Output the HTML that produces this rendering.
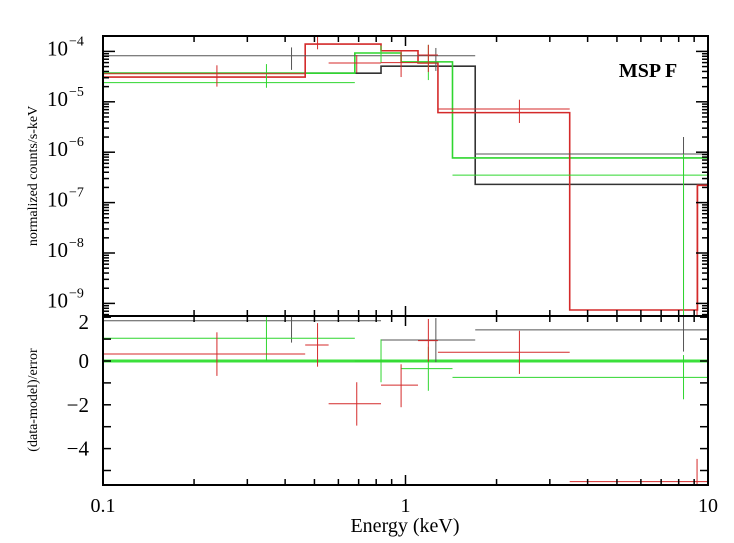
<!DOCTYPE html>
<html><head><meta charset="utf-8"><style>
html,body{margin:0;padding:0;background:#fff;}
svg{display:block;font-family:"Liberation Serif",serif;}
</style></head><body>
<svg id="chart" width="734" height="543" viewBox="0 0 734 543" xmlns="http://www.w3.org/2000/svg">
<defs>
<clipPath id="clipTop"><rect x="103" y="36" width="605" height="280"/></clipPath>
<clipPath id="clipBot"><rect x="103" y="316" width="605" height="169"/></clipPath>
</defs>
<g id="topMarks" clip-path="url(#clipTop)"></g>
<g id="botMarks" clip-path="url(#clipBot)"></g>
<g id="axes"></g>
<text x="648" y="77" font-size="20" font-weight="bold" text-anchor="middle">MSP F</text>
<text transform="translate(37,176) rotate(-90)" font-size="14" text-anchor="middle">normalized counts/s-keV</text>
<text transform="translate(37,400) rotate(-90)" font-size="14" text-anchor="middle">(data-model)/error</text>
<text x="405" y="532" font-size="20" text-anchor="middle">Energy (keV)</text>
</svg>
<script>
// ---- data: spectrum (top panel) ----
const blackLo=[0.1,0.83,1.70], blackHi=[0.83,1.70,10], blackC=[0.42,1.26,8.3];
const blackVal=[8.2e-5,8.2e-5,9.2e-7], blackErrHi=[1.2e-4,1.17e-4,2.0e-6], blackErrLo=[4.3e-5,4.1e-5,1e-10];
const blackModel=[3.7e-5,5.1e-5,2.3e-7];
const redLo=[0.1,0.466,0.557,0.83,1.10,1.28,3.49], redHi=[0.466,0.557,0.83,1.10,1.28,3.49,10];
const redC=[0.238,0.512,0.69,0.967,1.19,2.38,9.2];
const redVal=[3.6e-5,2.0e-4,5.9e-5,6.0e-5,8.5e-5,7.2e-6,1e-10];
const redErrHi=[5.3e-5,2.8e-4,8.5e-5,1.03e-4,1.35e-4,1.1e-5,2.2e-7];
const redErrLo=[2.0e-5,1.1e-4,3.8e-5,3.1e-5,3.9e-5,3.8e-6,1e-10];
const redModelLo=[0.1,0.466,0.83,1.10,1.28,3.49,9.23], redModelHi=[0.466,0.83,1.10,1.28,3.49,9.23,10];
const redModel=[3.1e-5,1.4e-4,1.03e-4,5.9e-5,6.1e-6,7.4e-10,2.2e-7];
const greenLo=[0.1,0.68,0.967,1.43], greenHi=[0.68,0.967,1.43,10], greenC=[0.347,0.83,1.19,8.3];
const greenVal=[2.4e-5,9.3e-5,6.2e-5,3.5e-7], greenErrHi=[5.6e-5,1.3e-4,1.35e-4,9.2e-7], greenErrLo=[1.9e-5,6.0e-5,2.7e-5,1e-10];
const greenModel=[3.7e-5,9.3e-5,6.2e-5,7.7e-7];
// ---- data: residuals (bottom panel) ----
const blackRes=[1.84,0.96,1.42], blackResHi=[2.02,1.96,2.5], blackResLo=[0.84,-0.05,0.43];
const redRes=[0.32,0.73,-1.95,-1.10,0.93,0.40,-5.51], redResHi=[1.31,1.73,-0.97,-0.15,1.92,1.38,-4.47], redResLo=[-0.68,-0.26,-2.95,-2.11,-0.03,-0.59,-6.0];
const greenRes=[1.04,0.0,-0.35,-0.75], greenResHi=[2.02,0.99,0.65,0.27], greenResLo=[0.01,-0.97,-1.36,-1.75];
// ---- ticks ----
const xMajor=[0.1,1,10], xMajorLabels=["0.1","1","10"];
const yTopExp=[-4,-5,-6,-7,-8,-9];
const yBotTicks=[2,0,-2,-4], yBotLabels=["2","0","\u22122","\u22124"];

const NS="http://www.w3.org/2000/svg";
const L=103,R=708,T=36,M=316,B=485;
const sx=e=>L+(Math.log10(e)+1)/2*(R-L);
const syT=v=>51.4-(Math.log10(v)+4)*50.4;
const syB=r=>361-r*21.9;
function mk(parent,tag,attrs){const e=document.createElementNS(NS,tag);for(const k in attrs)e.setAttribute(k,attrs[k]);parent.appendChild(e);return e;}
const topG=document.getElementById('topMarks'), botG=document.getElementById('botMarks'), ax=document.getElementById('axes');
const COL={black:'#333',red:'#d42a2a',green:'#2fd62f'};

function cross(g,lo,hi,c,v,eh,el,sy,color,name){
  const h=mk(g,'line',{x1:sx(lo),x2:sx(hi),y1:sy(v),y2:sy(v),stroke:color,'stroke-width':1});
  
  
  const vl=mk(g,'line',{x1:sx(c),x2:sx(c),y1:sy(eh),y2:sy(el),stroke:color,'stroke-width':1});
  
  
}
function steps(g,lo,hi,vals,sy,color,name){
  let d='';
  for(let i=0;i<vals.length;i++){
    d+=(i===0?'M':'L')+sx(lo[i])+','+sy(vals[i])+'L'+sx(hi[i])+','+sy(vals[i]);
  }
  const p=mk(g,'path',{d:d,fill:'none',stroke:color,'stroke-width':1.6});
  
  
}
// top panel
steps(topG,blackLo,blackHi,blackModel,syT,COL.black,'black-model');
steps(topG,greenLo,greenHi,greenModel,syT,COL.green,'green-model');
steps(topG,redModelLo,redModelHi,redModel,syT,COL.red,'red-model');
for(let i=0;i<blackVal.length;i++)cross(topG,blackLo[i],blackHi[i],blackC[i],blackVal[i],blackErrHi[i],blackErrLo[i],syT,'#555','black-data');
for(let i=0;i<greenVal.length;i++)cross(topG,greenLo[i],greenHi[i],greenC[i],greenVal[i],greenErrHi[i],greenErrLo[i],syT,COL.green,'green-data');
for(let i=0;i<redVal.length;i++)cross(topG,redLo[i],redHi[i],redC[i],redVal[i],redErrHi[i],redErrLo[i],syT,COL.red,'red-data');
// bottom panel
const z=mk(botG,'line',{x1:L,x2:R,y1:syB(0),y2:syB(0),stroke:'#3be03b','stroke-width':3});


for(let i=0;i<blackRes.length;i++)cross(botG,blackLo[i],blackHi[i],blackC[i],blackRes[i],blackResHi[i],blackResLo[i],syB,'#555','black-residual');
for(let i=0;i<greenRes.length;i++)cross(botG,greenLo[i],greenHi[i],greenC[i],greenRes[i],greenResHi[i],greenResLo[i],syB,COL.green,'green-residual');
for(let i=0;i<redRes.length;i++)cross(botG,redLo[i],redHi[i],redC[i],redRes[i],redResHi[i],redResLo[i],syB,COL.red,'red-residual');

// axes frames
const f1=mk(ax,'rect',{x:L,y:T,width:R-L,height:M-T,fill:'none',stroke:'#000','stroke-width':2});


const f2=mk(ax,'rect',{x:L,y:M,width:R-L,height:B-M,fill:'none',stroke:'#000','stroke-width':2});


function tk(x1,y1,x2,y2,w){const t=mk(ax,'line',{x1:x1,y1:y1,x2:x2,y2:y2,stroke:'#000','stroke-width':w||1.5});}
// x ticks
for(let d=-1;d<=1;d++){for(let k=1;k<=9;k++){
  const e=k*Math.pow(10,d); if(e>10)break; const x=sx(e); const len=(k===1)?10:6;
  [T,M].forEach(y=>{tk(x,y,x,y+len);});
  [M,B].forEach(y=>{tk(x,y,x,y-len);});
}}
// top y ticks
for(let ex=-10;ex<=-3;ex++){for(let k=1;k<=9;k++){
  const v=k*Math.pow(10,ex); const y=syT(v); if(y<T||y>M)continue; const len=k===1?12:6;
  tk(L,y,L+len,y); tk(R,y,R-len,y);
}}
// bottom y ticks
for(let r=-5;r<=2;r++){const y=syB(r); if(y<M-1||y>B)continue; tk(L,y,L+8,y); tk(R,y,R-8,y);}
// labels
xMajor.forEach((e,i)=>{const t=mk(ax,'text',{x:sx(e),y:512,'font-size':20,'text-anchor':'middle'});t.textContent=xMajorLabels[i];});
yTopExp.forEach(ex=>{const y=syT(Math.pow(10,ex));
  const t=mk(ax,'text',{x:47,y:y+4,'font-size':21});t.textContent='10';
  const s=mk(ax,'text',{x:69,y:y-6,'font-size':14});s.textContent='\u2212'+(-ex);});
yBotTicks.forEach((r,i)=>{const t=mk(ax,'text',{x:89,y:syB(r)+(r===2?12:7),'font-size':21,'text-anchor':'end'});t.textContent=yBotLabels[i];});
</script>
</body></html>
